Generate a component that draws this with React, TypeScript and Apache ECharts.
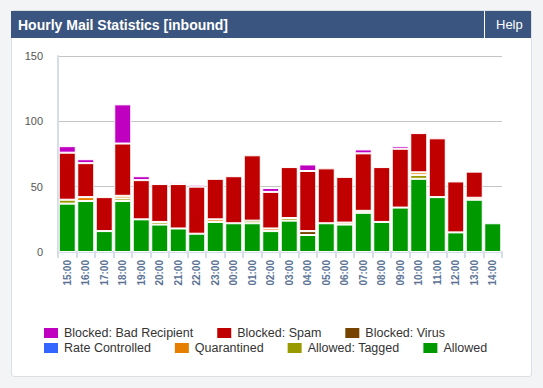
import React, { useEffect, useRef } from "react";
import * as echarts from "echarts";

const hours = ["15:00","16:00","17:00","18:00","19:00","20:00","21:00","22:00","23:00","00:00","01:00","02:00","03:00","04:00","05:00","06:00","07:00","08:00","09:00","10:00","11:00","12:00","13:00","14:00"];
const allowed =     [37, 39, 16, 39, 25, 21, 18, 14, 23, 22, 22, 16, 24, 13, 22, 21, 30, 23, 34, 56, 42, 15, 40, 22];
const tagged =      [3, 0, 0, 2, 0, 2, 0, 0, 0, 0, 2, 0, 2, 0, 0, 1.5, 1.5, 0, 0, 3, 0, 0, 0, 0];
const quarantined = [0, 3, 0, 2, 0, 0, 0, 0, 2, 0, 0, 2, 0, 0, 0, 0, 0, 0, 0, 2, 0, 0, 1.5, 0];
const rateControlled = [0, 0, 0, 0, 0, 0, 0, 0, 0, 0, 0, 0, 0, 0, 0, 0, 0, 0, 0, 0, 0, 0, 0, 0];
const virus =       [0, 0, 0, 0, 0, 0, 0, 0, 0, 0, 0, 0, 0, 3, 0, 0, 0, 0, 0, 0, 0, 0, 0, 0];
const spam =        [36, 26, 26, 40, 30, 29, 34, 36, 31, 36, 50, 28, 39, 46, 42, 35, 44, 42, 45, 30, 45, 39, 20, 0];
const badRecipient = [5, 3, 0, 30, 3, 0, 1.5, 1.5, 0, 1, 0, 3, 0, 5, 0, 0, 3, 0, 2, 1.2, 1.2, 0, 0, 0];
const yTicks = [0, 50, 100, 150];

const seriesDefs = [
  { name: "Allowed", data: allowed, color: "#009900" },
  { name: "Allowed: Tagged", data: tagged, color: "#999900" },
  { name: "Quarantined", data: quarantined, color: "#e67e00" },
  { name: "Rate Controlled", data: rateControlled, color: "#3366ff" },
  { name: "Blocked: Virus", data: virus, color: "#774400" },
  { name: "Blocked: Spam", data: spam, color: "#c00000" },
  { name: "Blocked: Bad Recipient", data: badRecipient, color: "#c000c0" },
];

const FONT = "'Liberation Sans', Arial, sans-serif";

export default function App() {
  const ref = useRef<HTMLDivElement>(null);
  useEffect(() => {
    if (!ref.current) return;
    const chart = echarts.init(ref.current, null, { renderer: "svg" });
    const legendText = { color: "#333", fontSize: 12.5, fontFamily: FONT };
    chart.setOption({
      animation: false,
      grid: { left: 58, right: 41, top: 56, bottom: 136, containLabel: false },
      legend: [
        {
          data: ["Blocked: Bad Recipient", "Blocked: Spam", "Blocked: Virus"],
          left: 37, top: 321, itemWidth: 16, itemHeight: 12, itemGap: 22,
          icon: "rect", textStyle: legendText, selectedMode: false,
        },
        {
          data: ["Rate Controlled", "Quarantined", "Allowed: Tagged", "Allowed"],
          left: 37, top: 336, itemWidth: 16, itemHeight: 12, itemGap: 22,
          icon: "rect", textStyle: legendText, selectedMode: false,
        },
      ],
      xAxis: {
        type: "category",
        data: hours,
        axisLine: { lineStyle: { color: "#d5dde8", width: 2 } },
        axisTick: { show: true, alignWithLabel: false, length: 6, lineStyle: { color: "#d5dde8", width: 2 } },
        axisLabel: { rotate: 90, margin: 8, color: "#5b7295", fontSize: 10, fontWeight: "bold", fontFamily: FONT },
      },
      yAxis: {
        type: "value",
        min: yTicks[0],
        max: yTicks[yTicks.length - 1],
        interval: 50,
        axisLine: { show: true, lineStyle: { color: "#d5dde8", width: 2 } },
        axisTick: { show: false },
        splitLine: { lineStyle: { color: "#c4c4c4", width: 1 } },
        axisLabel: { margin: 15, color: "#555", fontSize: 11, fontFamily: FONT },
      },
      series: seriesDefs.map((s) => ({
        name: s.name,
        type: "bar",
        stack: "total",
        barWidth: 17,
        data: s.data.map((v) => (v === 0 ? "-" : v)),
        itemStyle: { color: s.color, borderColor: "#ffffff", borderWidth: 1 },
      })),
    });
    return () => chart.dispose();
  }, []);

  return (
    <div style={{ position: "fixed", left: 0, top: 0, width: 543, height: 388, background: "#f3f4f6", fontFamily: FONT }}>
      <div style={{ position: "absolute", left: 11, top: 10, width: 519, height: 365, background: "#fff", border: "1px solid #dcdfe3", borderRadius: 3 }} />
      <div style={{ position: "absolute", left: 11, top: 11, width: 520, height: 27, background: "#3a5580" }}>
        <div style={{ position: "absolute", left: 7, top: 6, color: "#fff", fontSize: 14, fontWeight: "bold" }}>Hourly Mail Statistics [inbound]</div>
        <div style={{ position: "absolute", left: 473, top: 0, width: 1, height: 27, background: "#fff" }} />
        <div style={{ position: "absolute", left: 485, top: 6, color: "#fff", fontSize: 13 }}>Help</div>
      </div>
      <div ref={ref} style={{ position: "absolute", left: 0, top: 0, width: 543, height: 388 }} />
    </div>
  );
}
